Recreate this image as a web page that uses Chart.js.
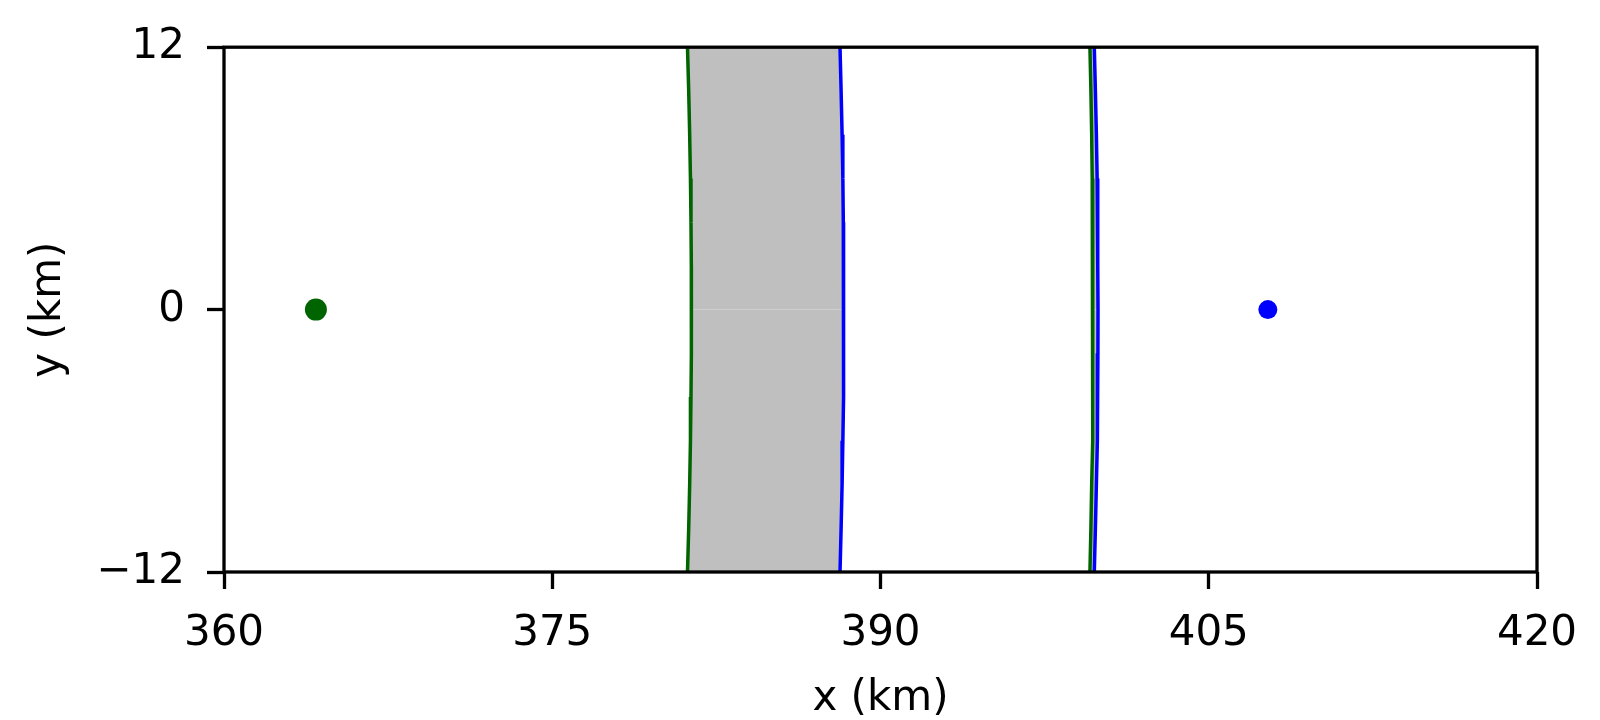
<!DOCTYPE html>
<html>
<head>
<meta charset="utf-8">
<script src="https://cdn.jsdelivr.net/npm/chart.js@4.4.0/dist/chart.umd.min.js"></script>
<style>
  html, body { margin: 0; padding: 0; background: #fff; }
  canvas { display: block; }
</style>
</head>
<body>
<canvas id="chart" width="1600" height="720"></canvas>
<script>
// tick labels
const xTicks = [360, 375, 390, 405, 420];
const yTicks = [-12, 0, 12];

// source points (km)
const greenSource = [{ x: 364.2, y: 0 }];
const blueSource = [{ x: 407.7, y: 0 }];

// curve samples (top to bottom)
const curveY = [12, 10, 8, 6, 4, 2, 0, -2, -4, -6, -8, -10, -12];
const greenLeftX = [381.18, 381.235, 381.28, 381.315, 381.34, 381.355, 381.36, 381.355, 381.34, 381.315, 381.28, 381.235, 381.18];
const blueLeftX = [388.15, 388.20, 388.245, 388.28, 388.30, 388.315, 388.32, 388.315, 388.30, 388.28, 388.245, 388.20, 388.15];
const greenRightX = [399.57, 399.615, 399.65, 399.675, 399.695, 399.706, 399.71, 399.706, 399.695, 399.675, 399.65, 399.615, 399.57];
const blueRightX = [399.77, 399.82, 399.865, 399.90, 399.92, 399.935, 399.94, 399.935, 399.92, 399.90, 399.865, 399.82, 399.77];

function toPoints(xs) {
    return xs.map((x, i) => ({ x: x, y: curveY[i] }));
}

// fill the band between two curves, top half and bottom half
const bandFill = {
    id: 'bandFill',
    beforeDatasetsDraw(chart) {
        const ctx = chart.ctx;
        const xs = chart.scales.x, ys = chart.scales.y;
        const area = chart.chartArea;
        ctx.save();
        ctx.beginPath();
        ctx.rect(area.left, area.top, area.right - area.left, area.bottom - area.top);
        ctx.clip();
        ctx.fillStyle = '#bfbfbf';
        [[greenLeftX, blueLeftX], [greenRightX, blueRightX]].forEach(pair => {
            const mid = curveY.indexOf(0);
            [[0, mid], [mid, curveY.length - 1]].forEach(([a, b]) => {
                ctx.beginPath();
                for (let i = a; i <= b; i++) {
                    const px = xs.getPixelForValue(pair[0][i]), py = ys.getPixelForValue(curveY[i]);
                    if (i === a) ctx.moveTo(px, py); else ctx.lineTo(px, py);
                }
                for (let i = b; i >= a; i--) {
                    ctx.lineTo(xs.getPixelForValue(pair[1][i]), ys.getPixelForValue(curveY[i]));
                }
                ctx.closePath();
                ctx.fill();
            });
        });
        ctx.restore();
    }
};

const frame = {
    id: 'frame',
    beforeDraw(chart) {
        const ctx = chart.ctx;
        ctx.save();
        ctx.fillStyle = '#ffffff';
        ctx.fillRect(0, 0, chart.width, chart.height);
        ctx.restore();
    },
    afterDatasetsDraw(chart) {
        const ctx = chart.ctx;
        const a = chart.chartArea;
        ctx.save();
        ctx.strokeStyle = '#000';
        ctx.lineWidth = 3.3;
        ctx.strokeRect(a.left, a.top, a.right - a.left, a.bottom - a.top);
        ctx.restore();
    }
};

const tickFont = { family: 'DejaVu Sans', size: 42 };

function lineSet(xs, color) {
    return {
        data: toPoints(xs),
        showLine: true,
        borderColor: color,
        borderWidth: 3.5,
        pointRadius: 0,
        fill: false,
        tension: 0
    };
}

new Chart(document.getElementById('chart').getContext('2d'), {
    type: 'scatter',
    data: {
        datasets: [
            lineSet(greenLeftX, '#006400'),
            lineSet(blueLeftX, '#0000ff'),
            lineSet(greenRightX, '#006400'),
            lineSet(blueRightX, '#0000ff'),
            {
                data: greenSource,
                pointRadius: 11,
                pointBackgroundColor: '#006400',
                pointBorderWidth: 0
            },
            {
                data: blueSource,
                pointRadius: 9.5,
                pointBackgroundColor: '#0000ff',
                pointBorderWidth: 0
            }
        ]
    },
    options: {
        responsive: false,
        animation: false,
        layout: { padding: { top: 46, right: 63, left: 0, bottom: 0 } },
        plugins: {
            legend: { display: false },
            tooltip: { enabled: false }
        },
        scales: {
            x: {
                type: 'linear',
                min: 360,
                max: 420,
                afterBuildTicks: scale => { scale.ticks = xTicks.map(v => ({ value: v })); },
                afterFit: scale => { scale.height = 148; },
                grid: {
                    drawOnChartArea: false,
                    drawTicks: true,
                    tickLength: 17,
                    tickWidth: 3.3,
                    tickColor: '#000'
                },
                border: { display: false },
                ticks: {
                    color: '#000',
                    font: tickFont,
                    padding: 20,
                    maxRotation: 0,
                    callback: v => String(v)
                },
                title: {
                    display: true,
                    text: 'x (km)',
                    color: '#000',
                    font: { family: 'DejaVu Sans', size: 42, lineHeight: 1.0 },
                    padding: { top: 0, bottom: 0 }
                }
            },
            y: {
                type: 'linear',
                min: -12,
                max: 12,
                afterBuildTicks: scale => { scale.ticks = yTicks.map(v => ({ value: v })); },
                afterFit: scale => { scale.width = 224; },
                grid: {
                    drawOnChartArea: false,
                    drawTicks: true,
                    tickLength: 17,
                    tickWidth: 3.3,
                    tickColor: '#000'
                },
                border: { display: false },
                ticks: {
                    color: '#000',
                    font: tickFont,
                    padding: 22,
                    callback: v => (v < 0 ? '\u2212' + Math.abs(v) : String(v))
                },
                title: {
                    display: true,
                    text: 'y (km)',
                    color: '#000',
                    font: { family: 'DejaVu Sans', size: 42, lineHeight: 1.2 },
                    padding: { top: 24, bottom: 0 }
                }
            }
        }
    },
    plugins: [bandFill, frame]
});
</script>
</body>
</html>
